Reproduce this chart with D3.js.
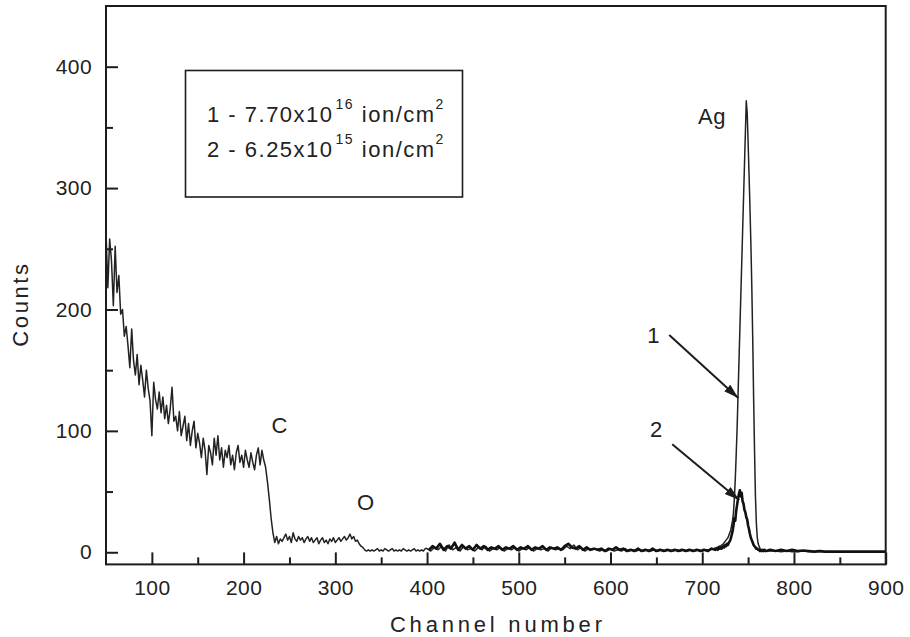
<!DOCTYPE html>
<html>
<head>
<meta charset="utf-8">
<script src="https://cdn.jsdelivr.net/npm/d3@7"></script>
<style>
  body { margin: 0; background: #fff; }
  svg { display: block; font-family: "Liberation Sans", Arial, Helvetica, sans-serif; }
</style>
</head>
<body>
<svg id="chart" width="910" height="637"></svg>
<script>
// ---- Spectrum data (channel = start + index * step) ----
// Low-channel background with the C and O edges
const lowStart = 50, lowStep = 2;
const lowCounts = [
  265, 218, 258, 240, 203, 252, 214, 228, 196, 200,
  178, 186, 170, 152, 184, 158, 146, 163, 138, 154,
  142, 128, 150, 135, 125, 96, 140, 126, 118, 132,
  115, 128, 110, 121, 106, 118, 136, 108, 112, 100,
  116, 96, 104, 112, 92, 106, 88, 100, 108, 86,
  98, 90, 78, 94, 84, 64, 88, 82, 72, 94,
  80, 96, 76, 86, 70, 84, 78, 88, 72, 80,
  68, 82, 88, 74, 80, 70, 84, 76, 70, 82,
  74, 68, 80, 86, 72, 84, 76, 70, 58, 44,
  28, 16, 8, 13, 7, 11
];
const midStart = 242, midStep = 2;
const midCounts = [
  9, 12, 15, 10, 13, 8, 16, 11, 9, 13,
  10, 12, 8, 11, 13, 9, 12, 8, 10, 12,
  7, 10, 12, 8, 10, 7, 11, 9, 12, 8,
  10, 12, 9, 11, 13, 10, 12, 15, 11, 13,
  9, 10, 7, 5, 4, 2, 1, 2, 1, 2,
  1, 2, 3, 1, 2, 1, 3, 2, 1, 2,
  3, 1, 2, 1, 2, 1, 3, 2, 1, 2,
  1, 2, 3, 1, 2, 1, 2, 1, 3
];
// Spectrum 1 (7.70x10^16 ion/cm^2)
const s1BaseStart = 400, s1BaseStep = 4;
const s1BaseCounts = [
  3, 1, 4, 2, 5, 1, 6, 2, 4, 1,
  5, 2, 3, 1, 4, 2, 5, 1, 3, 2,
  4, 1, 3, 2, 4, 1, 3, 2, 4, 1,
  3, 2, 3, 1, 4, 2, 3, 2, 5, 3,
  6, 2, 4, 1, 3, 2, 3, 1, 2, 1,
  3, 1, 2, 1, 3, 1, 2, 1, 2, 1,
  2, 1, 2, 1, 2, 1, 2, 1, 2, 1,
  2, 1, 2, 1, 2, 1, 2, 2, 3
];
const s1PeakStart = 716, s1PeakStep = 1;
const s1PeakCounts = [
  4, 4, 5, 5, 5, 6, 6, 7, 8, 9,
  10, 11, 12, 14, 16, 18, 22, 26, 32, 44,
  60, 80, 102, 129, 156, 183, 210, 237, 264, 291,
  318, 345, 372, 362, 338, 312, 285, 255, 220, 178,
  128, 84, 46, 24, 12, 7, 5, 3, 2, 2,
  1, 1, 1, 1, 1
];
const s1TailStart = 774, s1TailStep = 6;
const s1TailCounts = [
  1, 1, 0.5, 1, 0.5, 0.5, 1, 0.5, 0.5, 0.5, 0.5,
  0.5, 0.5, 0.5, 0.5, 0.5, 0.5, 0.5, 0.5, 0.5, 0.5, 0.5
];
// Spectrum 2 (6.25x10^15 ion/cm^2)
const s2BaseStart = 402, s2BaseStep = 4;
const s2BaseCounts = [
  2, 5, 3, 7, 2, 5, 3, 8, 2, 6,
  3, 5, 2, 6, 3, 5, 2, 4, 3, 5,
  2, 4, 3, 5, 2, 4, 3, 5, 2, 4,
  3, 5, 2, 4, 3, 4, 2, 5, 7, 4,
  3, 5, 2, 4, 2, 3, 2, 3, 1, 3,
  2, 4, 2, 3, 1, 2, 1, 3, 1, 2,
  1, 3, 1, 2, 1, 2, 1, 2, 1, 2,
  1, 2, 1, 2, 1, 2, 1, 3, 2
];
const s2PeakStart = 716, s2PeakStep = 1;
const s2PeakCounts = [
  3, 2, 4, 3, 4, 3, 4, 5, 4, 6,
  5, 7, 6, 8, 9, 11, 14, 17, 22, 28,
  26, 34, 39, 44, 48, 51, 46, 49, 42, 40,
  35, 33, 29, 27, 22, 19, 15, 12, 10, 8,
  6, 5, 4, 3, 3, 2, 2, 1, 2, 1,
  2, 1, 2, 1, 1
];
const s2TailStart = 774, s2TailStep = 6;
const s2TailCounts = [
  2, 1, 2, 1, 2, 1, 1.5, 1, 0.5, 1, 0.5,
  0.5, 0.5, 0.5, 0.5, 0.5, 0.5, 0.5, 0.5, 0.5, 0.5, 0.5
];

// ---- Axis ticks ----
const xMajorTicks = [100, 200, 300, 400, 500, 600, 700, 800, 900];
const xMinorTicks = [150, 250, 350, 450, 550, 650, 750, 850];
const yMajorTicks = [0, 100, 200, 300, 400];
const yMinorTicks = [50, 150, 250, 350];

// ---- Labels ----
const xTitle = "Channel number";
const yTitle = "Counts";
const legendLines = [
  { lead: "1 - 7.70x10", exp: "16", unit: " ion/cm", unitExp: "2" },
  { lead: "2 - 6.25x10", exp: "15", unit: " ion/cm", unitExp: "2" }
];
// annotation text anchored in data coordinates (channel, counts)
const peakLabels = [
  { text: "Ag", ch: 695.5, count: 353 },
  { text: "1",  ch: 640,   count: 172 },
  { text: "2",  ch: 643,   count: 95 },
  { text: "C",  ch: 230.5, count: 98 },
  { text: "O",  ch: 323.5, count: 35 }
];
const arrows = [
  { from: [664, 179], to: [739.3, 127] },
  { from: [667.3, 89], to: [740.3, 43] }
];

// ---- Build series ----
function segment(start, step, counts) {
  return counts.map((c, i) => ({ ch: start + i * step, count: c }));
}
const series1 = [
  ...segment(lowStart, lowStep, lowCounts),
  ...segment(midStart, midStep, midCounts),
  ...segment(s1BaseStart, s1BaseStep, s1BaseCounts),
  ...segment(s1PeakStart, s1PeakStep, s1PeakCounts),
  ...segment(s1TailStart, s1TailStep, s1TailCounts)
];
const series2 = [
  ...segment(s2BaseStart, s2BaseStep, s2BaseCounts),
  ...segment(s2PeakStart, s2PeakStep, s2PeakCounts),
  ...segment(s2TailStart, s2TailStep, s2TailCounts)
];

// ---- Layout ----
const svg = d3.select("#chart");
const plot = { left: 106, right: 885.7, top: 6, bottom: 564.4 };
const x = d3.scaleLinear().domain([50, 900]).range([plot.left, plot.right]);
const y = d3.scaleLinear().domain([-10, 450]).range([plot.bottom, plot.top]);
const ink = "#1c1c1c";

const defs = svg.append("defs");
defs.append("clipPath").attr("id", "plotClip")
  .append("rect")
  .attr("x", plot.left).attr("y", plot.top)
  .attr("width", plot.right - plot.left).attr("height", plot.bottom - plot.top);
defs.append("marker")
  .attr("id", "arrowHead")
  .attr("markerUnits", "userSpaceOnUse")
  .attr("markerWidth", 16).attr("markerHeight", 10)
  .attr("refX", 15).attr("refY", 4.5)
  .attr("orient", "auto")
  .append("path")
  .attr("d", "M0,0 L15,4.5 L0,9 Z")
  .attr("fill", ink);

// ---- Spectra ----
const line = d3.line().x(d => x(d.ch)).y(d => y(d.count));
const curves = svg.append("g").attr("clip-path", "url(#plotClip)");
curves.append("path")
  .datum(series1)
  .attr("d", line)
  .attr("fill", "none")
  .attr("stroke", "#222")
  .attr("stroke-width", 1.5)
  .attr("stroke-linejoin", "round");
curves.append("path")
  .datum(series2)
  .attr("d", line)
  .attr("fill", "none")
  .attr("stroke", "#111")
  .attr("stroke-width", 2.6)
  .attr("stroke-linejoin", "round");

// ---- Axes (ticks point inward) ----
function styleAxis(g) {
  g.select(".domain").remove();
  g.selectAll(".tick line").attr("stroke", ink).attr("stroke-width", 2);
  g.selectAll(".tick text")
    .attr("fill", "#222")
    .style("font-size", "21px")
    .style("letter-spacing", "0.4px");
}
svg.append("g")
  .attr("transform", `translate(0,${plot.bottom})`)
  .call(d3.axisBottom(x).tickValues(xMajorTicks).tickFormat(d3.format("d"))
    .tickSizeInner(-12).tickSizeOuter(0).tickPadding(16))
  .call(styleAxis);
svg.append("g")
  .attr("transform", `translate(0,${plot.bottom})`)
  .call(d3.axisBottom(x).tickValues(xMinorTicks).tickFormat("")
    .tickSizeInner(-7).tickSizeOuter(0))
  .call(styleAxis);
svg.append("g")
  .attr("transform", `translate(${plot.left},0)`)
  .call(d3.axisLeft(y).tickValues(yMajorTicks).tickFormat(d3.format("d"))
    .tickSizeInner(-12).tickSizeOuter(0).tickPadding(14))
  .call(styleAxis);
svg.append("g")
  .attr("transform", `translate(${plot.left},0)`)
  .call(d3.axisLeft(y).tickValues(yMinorTicks).tickFormat("")
    .tickSizeInner(-7).tickSizeOuter(0))
  .call(styleAxis);

// plot frame
svg.append("rect")
  .attr("x", plot.left).attr("y", plot.top)
  .attr("width", plot.right - plot.left).attr("height", plot.bottom - plot.top)
  .attr("fill", "none").attr("stroke", ink).attr("stroke-width", 2);

// ---- Axis titles ----
svg.append("text")
  .attr("x", (plot.left + plot.right) / 2 + 2).attr("y", 632)
  .attr("text-anchor", "middle")
  .attr("fill", "#222")
  .style("font-size", "22px")
  .style("letter-spacing", "3.8px")
  .text(xTitle);
svg.append("text")
  .attr("transform", "translate(28,304) rotate(-90)")
  .attr("text-anchor", "middle")
  .attr("fill", "#222")
  .style("font-size", "22px")
  .style("letter-spacing", "2.6px")
  .text(yTitle);

// ---- Legend box ----
const legend = svg.append("g");
legend.append("rect")
  .attr("x", 185.5).attr("y", 70.5).attr("width", 277).attr("height", 126.5)
  .attr("fill", "none").attr("stroke", ink).attr("stroke-width", 1.6);
legendLines.forEach((l, i) => {
  const t = legend.append("text")
    .attr("x", 207).attr("y", 121.7 + i * 35)
    .attr("fill", "#222")
    .style("font-size", "22px")
    .style("letter-spacing", "1.5px");
  t.append("tspan").text(l.lead);
  t.append("tspan").attr("dy", -13).attr("dx", 2).style("font-size", "14px").text(l.exp);
  t.append("tspan").attr("dy", 13).text(l.unit);
  t.append("tspan").attr("dy", -13).style("font-size", "14px").text(l.unitExp);
});

// ---- Peak annotations ----
svg.append("g").selectAll("text")
  .data(peakLabels)
  .join("text")
  .attr("x", d => x(d.ch)).attr("y", d => y(d.count))
  .attr("fill", "#222")
  .style("font-size", "22px")
  .style("letter-spacing", "0.5px")
  .text(d => d.text);

svg.append("g").selectAll("line")
  .data(arrows)
  .join("line")
  .attr("x1", d => x(d.from[0])).attr("y1", d => y(d.from[1]))
  .attr("x2", d => x(d.to[0])).attr("y2", d => y(d.to[1]))
  .attr("stroke", ink).attr("stroke-width", 2)
  .attr("marker-end", "url(#arrowHead)");
</script>
</body>
</html>
